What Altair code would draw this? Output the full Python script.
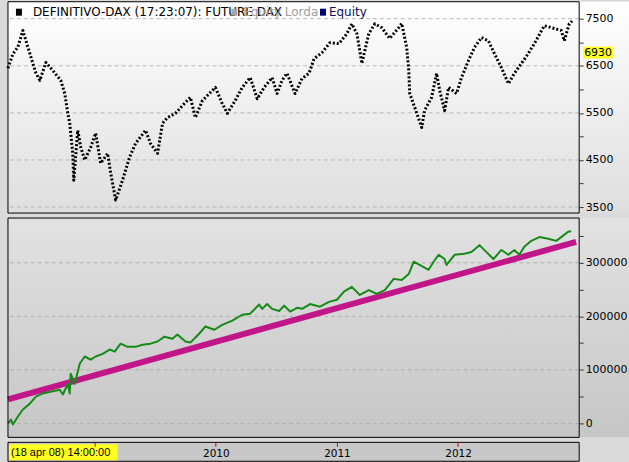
import altair as alt
import pandas as pd

# ---------------- data ----------------
price_years = [2008.284, 2008.325, 2008.366, 2008.407, 2008.449, 2008.490, 2008.514, 2008.547,
               2008.597, 2008.654, 2008.720, 2008.753, 2008.778, 2008.794, 2008.819, 2008.827,
               2008.860, 2008.885, 2008.918, 2008.967, 2009.008, 2009.049, 2009.107, 2009.132,
               2009.173, 2009.230, 2009.288, 2009.337, 2009.420, 2009.461, 2009.519, 2009.560,
               2009.601, 2009.667, 2009.741, 2009.790, 2009.831, 2009.889, 2009.996, 2010.053,
               2010.095, 2010.160, 2010.218, 2010.284, 2010.342, 2010.399, 2010.465, 2010.506,
               2010.547, 2010.588, 2010.654, 2010.712, 2010.770, 2010.811, 2010.877, 2010.942,
               2011.016, 2011.082, 2011.123, 2011.165, 2011.206, 2011.263, 2011.313, 2011.370,
               2011.436, 2011.510, 2011.535, 2011.576, 2011.593, 2011.601, 2011.642, 2011.700,
               2011.724, 2011.782, 2011.823, 2011.848, 2011.889, 2011.922, 2011.988, 2012.029,
               2012.086, 2012.136, 2012.193, 2012.251, 2012.300, 2012.358, 2012.416, 2012.465,
               2012.523, 2012.580, 2012.630, 2012.712, 2012.770, 2012.852, 2012.877, 2012.918,
               2012.942]
price_values = [6450, 6750, 6900, 7250, 6890, 6550, 6350, 6190,
                6570, 6400, 6190, 5910, 5490, 5280, 4640, 4070,
                5130, 4770, 4500, 4770, 5070, 4430, 4640, 4220,
                3650, 4070, 4560, 4850, 5130, 4850, 4640, 5280,
                5400, 5490, 5700, 5830, 5400, 5760, 6040, 5700,
                5490, 5760, 6040, 6250, 5800, 6040, 6250, 5910,
                6190, 6340, 5910, 6230, 6340, 6650, 6780, 6990,
                6970, 7180, 7390, 7180, 6550, 7180, 7390, 7310,
                7080, 7310, 7400, 6890, 6400, 5910, 5620, 5190,
                5550, 5830, 6340, 5980, 5550, 6040, 5910, 6250,
                6610, 6890, 7100, 7030, 6760, 6460, 6120, 6340,
                6550, 6760, 6970, 7350, 7310, 7250, 7030, 7390,
                7450]

equity_years = [2008.284, 2008.309, 2008.325, 2008.366, 2008.407, 2008.465, 2008.514, 2008.572,
                2008.654, 2008.712, 2008.737, 2008.778, 2008.794, 2008.802, 2008.835, 2008.877,
                2008.918, 2008.967, 2009.008, 2009.066, 2009.123, 2009.165, 2009.214, 2009.272,
                2009.337, 2009.395, 2009.461, 2009.519, 2009.576, 2009.642, 2009.683, 2009.749,
                2009.790, 2009.864, 2009.914, 2009.988, 2010.053, 2010.136, 2010.218, 2010.284,
                2010.358, 2010.383, 2010.424, 2010.465, 2010.523, 2010.564, 2010.613, 2010.671,
                2010.712, 2010.778, 2010.860, 2010.934, 2011.000, 2011.058, 2011.123, 2011.189,
                2011.263, 2011.329, 2011.395, 2011.469, 2011.535, 2011.593, 2011.634, 2011.683,
                2011.757, 2011.798, 2011.840, 2011.889, 2011.905, 2011.971, 2012.053, 2012.111,
                2012.177, 2012.235, 2012.292, 2012.358, 2012.416, 2012.465, 2012.506, 2012.547,
                2012.605, 2012.671, 2012.745, 2012.811, 2012.852, 2012.909, 2012.934]
equity_values = [0, 7000, -2000, 13000, 26000, 37000, 50000, 56000,
                 60000, 63000, 54000, 74000, 56000, 93000, 74000, 112000,
                 125000, 119000, 125000, 130000, 138000, 134000, 149000, 143000,
                 143000, 147000, 149000, 153000, 162000, 158000, 166000, 153000,
                 151000, 168000, 181000, 175000, 184000, 192000, 203000, 205000,
                 222000, 214000, 223000, 214000, 210000, 220000, 209000, 216000,
                 214000, 223000, 218000, 227000, 231000, 246000, 255000, 240000,
                 249000, 242000, 249000, 270000, 268000, 279000, 302000, 296000,
                 287000, 302000, 315000, 307000, 296000, 315000, 317000, 320000,
                 333000, 320000, 307000, 324000, 315000, 324000, 315000, 330000,
                 341000, 348000, 345000, 341000, 348000, 358000, 359000]

trend_years = [2008.284, 2012.975]
trend_values = [45000, 339000]

x_ticks = [2009, 2010, 2011, 2012]
price_ticks = [3500, 4000, 4500, 5000, 5500, 6000, 6500, 7000, 7500]
price_grid = [3500, 4500, 5500, 6500, 7500]
equity_ticks = [0, 50000, 100000, 150000, 200000, 250000, 300000, 350000]
equity_grid = [0, 100000, 200000, 300000]
last_price_label = "6930"
start_label = "(18 apr 08) 14:00:00"
legend_main = "DEFINITIVO-DAX (17:23:07): FUTURE DAX"
legend_lorda = "Equity Lorda"
legend_equity = "Equity"

# ---------------- layout ----------------
W = 573
H_TOP, H_MID, H_STRIP = 212, 220, 19
FONT = "DejaVu Sans"

xscale = alt.Scale(domain=[2008.284, 2013.0], nice=False, zero=False)
yscale_top = alt.Scale(domain=[3373, 7860], nice=False, zero=False)
yscale_mid = alt.Scale(domain=[-26000, 383600], nice=False, zero=False)

one = alt.Data(values=[{}])


def grad(c1, c2):
    return alt.LinearGradient(gradient="linear", x1=0, x2=0, y1=0, y2=1,
                              stops=[alt.GradientStop(offset=0, color=c1),
                                     alt.GradientStop(offset=1, color=c2)])


def background(c1, c2, h):
    return alt.Chart(one).mark_rect(color=grad(c1, c2)).encode(
        x=alt.value(0), x2=alt.value(W + 50), y=alt.value(0), y2=alt.value(h))


def border(h, fill="transparent"):
    return alt.Chart(one).mark_rect(fill=fill, stroke="black", strokeWidth=1).encode(
        x=alt.value(0), x2=alt.value(W), y=alt.value(0), y2=alt.value(h))


def yaxis(values, labelexpr):
    return alt.Axis(orient="right", values=values, labelExpr=labelexpr, format="d",
                    grid=False, domain=False, tickSize=4, tickColor="#333333",
                    labelPadding=2, labelFont=FONT, labelFontSize=11, labelColor="black",
                    title=None, zindex=1)


ax_top = yaxis(price_ticks, "datum.value % 1000 == 500 ? datum.label : ''")
ax_mid = yaxis(equity_ticks, "datum.value % 100000 == 0 ? datum.label : ''")

# ---------------- top panel: price ----------------
price_df = pd.DataFrame({"yr": price_years, "price": price_values})
pgrid_df = pd.DataFrame({"v": price_grid})

top_grid = alt.Chart(pgrid_df).mark_rule(color="#b8b8b8", strokeDash=[4, 3], strokeWidth=1).encode(
    y=alt.Y("v:Q", scale=yscale_top, axis=ax_top))
top_line = alt.Chart(price_df).mark_line(color="black", strokeWidth=3, strokeDash=[2, 2],
                                         strokeJoin="round").encode(
    x=alt.X("yr:Q", scale=xscale, axis=None),
    y=alt.Y("price:Q", scale=yscale_top, axis=ax_top))

leg_sq1 = alt.Chart(one).mark_rect(color="black").encode(
    x=alt.value(8), x2=alt.value(14), y=alt.value(7), y2=alt.value(14))
leg_t1 = alt.Chart(one).mark_text(align="left", baseline="middle", font=FONT, fontSize=12,
                                  color="black").encode(
    x=alt.value(25), y=alt.value(10), text=alt.value(legend_main))
leg_sq2 = alt.Chart(one).mark_rect(color="#a8a8a8").encode(
    x=alt.value(224), x2=alt.value(230), y=alt.value(7), y2=alt.value(14))
leg_t2 = alt.Chart(one).mark_text(align="left", baseline="middle", font=FONT, fontSize=12,
                                  color="#a0a0a0").encode(
    x=alt.value(236), y=alt.value(10), text=alt.value(legend_lorda))
leg_sq3 = alt.Chart(one).mark_rect(color="#000070").encode(
    x=alt.value(313), x2=alt.value(319), y=alt.value(7), y2=alt.value(14))
leg_t3 = alt.Chart(one).mark_text(align="left", baseline="middle", font=FONT, fontSize=12,
                                  color="#10105a").encode(
    x=alt.value(322), y=alt.value(10), text=alt.value(legend_equity))

last_box = alt.Chart(one).mark_rect(color="#ffff22").encode(
    x=alt.value(W + 4), x2=alt.value(W + 34), y=alt.value(45), y2=alt.value(57))
last_txt = alt.Chart(one).mark_text(align="left", baseline="middle", font=FONT, fontSize=11,
                                    color="black").encode(
    x=alt.value(W + 5), y=alt.value(51), text=alt.value(last_price_label))

top = alt.layer(
    background("#ffffff", "#dedede", H_TOP), top_grid, top_line, border(H_TOP),
    leg_t1, leg_sq1, leg_sq2, leg_t2, leg_sq3, leg_t3, last_box, last_txt
).properties(width=W, height=H_TOP)

# ---------------- middle panel: equity ----------------
eq_df = pd.DataFrame({"yr": equity_years, "eq": equity_values})
trend_df = pd.DataFrame({"yr": trend_years, "eq": trend_values})
egrid_df = pd.DataFrame({"v": equity_grid})

mid_grid = alt.Chart(egrid_df).mark_rule(color="#b0b0b0", strokeDash=[4, 3], strokeWidth=1).encode(
    y=alt.Y("v:Q", scale=yscale_mid, axis=ax_mid))
mid_trend = alt.Chart(trend_df).mark_line(color="#c0168a", strokeWidth=6, strokeJoin="round").encode(
    x=alt.X("yr:Q", scale=xscale, axis=None),
    y=alt.Y("eq:Q", scale=yscale_mid, axis=ax_mid))
mid_eq = alt.Chart(eq_df).mark_line(color="#168a16", strokeWidth=2, strokeJoin="round").encode(
    x=alt.X("yr:Q", scale=xscale, axis=None),
    y=alt.Y("eq:Q", scale=yscale_mid, axis=ax_mid))

mid = alt.layer(
    background("#e2e2e2", "#c6c6c6", H_MID), mid_grid, mid_trend, mid_eq, border(H_MID)
).properties(width=W, height=H_MID)

# ---------------- bottom strip: time axis ----------------
ticks_df = pd.DataFrame({"yr": x_ticks})
strip_axis = alt.Axis(orient="bottom", offset=-H_STRIP, values=x_ticks, format="d",
                      labelExpr="datum.value == 2009 ? '' : datum.label",
                      grid=False, domain=False, tickSize=4, tickColor="#dd0000",
                      labelPadding=2, labelFont=FONT, labelFontSize=10.5, labelColor="black",
                      labelBaseline="top", title=None, zindex=1)
strip_ticks = alt.Chart(ticks_df).mark_point(opacity=0).encode(
    x=alt.X("yr:Q", scale=xscale, axis=strip_axis))
start_box = alt.Chart(one).mark_rect(color="#ffff22").encode(
    x=alt.value(1), x2=alt.value(110), y=alt.value(2), y2=alt.value(18))
start_txt = alt.Chart(one).mark_text(align="left", baseline="middle", font="Liberation Sans",
                                     fontSize=11, color="black").encode(
    x=alt.value(3), y=alt.value(10.5), text=alt.value(start_label))

strip = alt.layer(
    border(H_STRIP, fill="#c8c8c8"), start_box, start_txt, strip_ticks
).properties(width=W, height=H_STRIP)

chart = alt.vconcat(top, mid, strip, spacing=3).properties(
    padding={"left": 5, "top": 0, "right": 0, "bottom": 0},
    background="#dadada"
).configure_view(stroke=None)

chart.save("out.html", embed_options={"renderer": "svg", "actions": False})
